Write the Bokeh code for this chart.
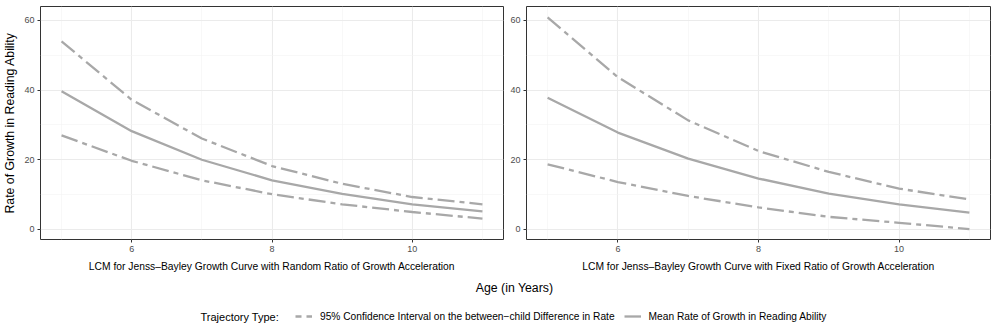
from bokeh.plotting import figure
from bokeh.layouts import column, row
from bokeh.models import FixedTicker, Label, Legend, LegendItem, Range1d
from bokeh.embed import file_html
from bokeh.resources import INLINE

ages = [5, 6, 7, 8, 9, 10, 11]
random_upper = [54.0, 37.2, 26.1, 18.2, 13.1, 9.3, 7.2]
random_mean = [39.7, 28.2, 20.0, 14.1, 10.2, 7.2, 5.2]
random_lower = [27.0, 19.7, 14.1, 10.1, 7.2, 5.0, 3.1]
fixed_upper = [60.9, 43.7, 31.3, 22.5, 16.5, 11.7, 8.6]
fixed_mean = [37.8, 27.8, 20.3, 14.6, 10.3, 7.2, 4.8]
fixed_lower = [18.7, 13.6, 9.6, 6.3, 3.6, 1.9, 0.1]

panel_titles = ["LCM for Jenss\u2013Bayley Growth Curve with Random Ratio of Growth Acceleration",
                "LCM for Jenss\u2013Bayley Growth Curve with Fixed Ratio of Growth Acceleration"]
y_title = "Rate of Growth in Reading Ability"
x_title = "Age (in Years)"
legend_title = "Trajectory Type:"
series_names = ["95% Confidence Interval on the between\u2212child Difference in Rate",
                "Mean Rate of Growth in Reading Ability"]
x_ticks = [6, 8, 10]
x_minor = [5, 7, 9, 11]
y_ticks = [0, 20, 40, 60]
y_minor = [10, 30, 50]

FONT = "Liberation Sans"
GREY = "#A8A8A8"
DASH = "17 5 5 5"
LW = 2.3


def make_panel(upper, mean, lower, title, first):
    p = figure(width=506 if first else 491, height=276,
               x_range=Range1d(4.7, 11.3), y_range=Range1d(-2.9, 64.0),
               output_backend="svg", toolbar_location=None,
               min_border_top=6, min_border_bottom=37,
               min_border_left=39 if first else 20,
               min_border_right=3 if first else 7)
    p.background_fill_color = "white"
    p.border_fill_color = "white"
    p.outline_line_color = "#333333"
    p.outline_line_width = 1
    for ax in (p.xaxis[0], p.yaxis[0]):
        ax.axis_line_color = None
        ax.major_tick_line_color = "#333333"
        ax.major_tick_out = 3
        ax.major_tick_in = 0
        ax.minor_tick_line_color = None
        ax.major_label_text_font = FONT
        ax.major_label_text_font_size = "9px"
        ax.major_label_text_color = "#4D4D4D"
        ax.major_label_standoff = 2
        ax.axis_label_text_font = FONT
        ax.axis_label_text_font_style = "normal"
        ax.axis_label_text_color = "black"
    p.xaxis.ticker = FixedTicker(ticks=x_ticks, minor_ticks=x_minor)
    p.yaxis.ticker = FixedTicker(ticks=y_ticks, minor_ticks=y_minor)
    p.xaxis.axis_label = title
    p.xaxis.axis_label_text_font_size = "10.3px"
    p.xaxis.axis_label_standoff = 6
    if first:
        p.yaxis.axis_label = y_title
        p.yaxis.axis_label_text_font_size = "12.3px"
        p.yaxis.axis_label_standoff = 4
    for g in (p.xgrid[0], p.ygrid[0]):
        g.grid_line_color = "#EBEBEB"
        g.grid_line_width = 1.1
        g.minor_grid_line_color = "#F3F3F3"
        g.minor_grid_line_width = 0.6
    p.line(ages, upper, line_color=GREY, line_width=LW, line_dash=DASH)
    p.line(ages, lower, line_color=GREY, line_width=LW, line_dash=DASH)
    p.line(ages, mean, line_color=GREY, line_width=LW)
    return p


p1 = make_panel(random_upper, random_mean, random_lower, panel_titles[0], True)
p2 = make_panel(fixed_upper, fixed_mean, fixed_lower, panel_titles[1], False)

footer = figure(width=997, height=56, x_range=Range1d(0, 997), y_range=Range1d(0, 56),
                output_backend="svg", toolbar_location=None,
                x_axis_location=None, y_axis_location=None,
                min_border_left=0, min_border_right=0, min_border_top=0, min_border_bottom=0)
footer.grid.visible = False
footer.outline_line_color = None
footer.add_layout(Label(x=514, y=45, text=x_title, text_font=FONT, text_font_size="12.3px",
                        text_color="black", text_align="center", text_baseline="middle"))
footer.add_layout(Label(x=200, y=16, text=legend_title, text_font=FONT, text_font_size="11px",
                        text_color="black", text_align="left", text_baseline="middle"))
nan = [float("nan")]
r_ci = footer.line(nan, nan, line_color=GREY, line_width=LW, line_dash="6 5")
r_mean = footer.line(nan, nan, line_color=GREY, line_width=LW)
legend = Legend(items=[LegendItem(label=series_names[0], renderers=[r_ci]),
                       LegendItem(label=series_names[1], renderers=[r_mean])],
                orientation="horizontal", location=(295, 9),
                label_text_font=FONT, label_text_font_size="10.2px", label_text_color="black",
                glyph_width=17, glyph_height=14, label_standoff=8, spacing=9,
                padding=0, margin=0, border_line_color=None, background_fill_alpha=0)
footer.add_layout(legend)

layout = column(row(p1, p2), footer)
open("out.html", "w").write(file_html(layout, INLINE))
